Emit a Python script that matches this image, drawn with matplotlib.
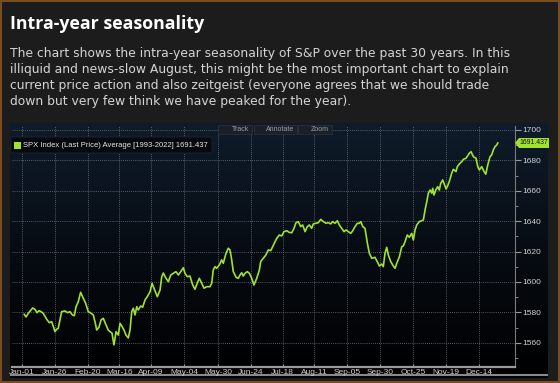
import matplotlib
matplotlib.use('Agg')
import matplotlib.pyplot as plt
import matplotlib.ticker as ticker
import matplotlib.patches as mpatches
from matplotlib.colors import LinearSegmentedColormap
import numpy as np

W, H = 560, 383

TITLE = 'Intra-year seasonality'
BODY = ['The chart shows the intra-year seasonality of S&P over the past 30 years. In this',
        'illiquid and news-slow August, this might be the most important chart to explain',
        'current price action and also zeitgeist (everyone agrees that we should trade',
        'down but very few think we have peaked for the year).']
LEGEND = 'SPX Index (Last Price) Average [1993-2022] 1691.437'
LAST = 1691.437

# x tick labels (day of year, Jan-01 = 0)
tick_days = [0, 25, 50, 74, 98, 123, 149, 174, 198, 222, 247, 272, 297, 322, 347]
tick_labels = ['Jan-01', 'Jan-26', 'Feb-20', 'Mar-16', 'Apr-09', 'May-04', 'May-30', 'Jun-24',
               'Jul-18', 'Aug-11', 'Sep-05', 'Sep-30', 'Oct-25', 'Nov-19', 'Dec-14']
y_ticks = [1560, 1580, 1600, 1620, 1640, 1660, 1680, 1700]

# average seasonal path
days = [1.8, 3.1, 4.9, 8.2, 9.9, 11.5, 13.0, 14.5, 16.2, 18.8, 20.8, 22.6, 24.1, 25.1, 26.4, 27.6,
        30.2, 32.7, 34.8, 36.5, 38.3, 39.8, 41.1, 42.8, 44.6, 46.6, 48.4, 50.4, 52.5, 54.2, 55.5,
        56.8, 58.5, 60.1, 61.8, 63.9, 65.6, 66.9, 68.4, 69.9, 71.5, 73.2, 74.5, 75.8, 77.5, 79.0,
        80.8, 82.1, 83.4, 84.6, 85.9, 87.2, 88.4, 90.2, 91.7, 93.5, 95.2, 97.3, 98.8, 100.3, 101.8,
        102.8, 104.9, 106.2, 107.4, 109.4, 111.2, 113.0, 115.0, 117.0, 118.8, 120.6, 122.6, 123.8,
        125.6, 127.6, 129.7, 131.4, 133.2, 134.7, 136.5, 138.3, 140.3, 142.8, 144.1, 145.3, 146.6,
        147.9, 149.9, 151.7, 152.9, 155.0, 156.7, 158.0, 159.3, 160.5, 162.6, 164.3, 165.6, 166.9,
        168.1, 169.4, 171.1, 172.7, 174.5, 176.2, 178.3, 180.3, 181.3, 183.3, 185.3, 187.1, 188.9,
        190.4, 192.2, 193.5, 195.4, 197.3, 199.0, 201.1, 203.0, 204.9, 206.6, 208.1, 209.9, 211.7,
        213.2, 215.0, 216.7, 218.2, 220.0, 221.3, 223.3, 225.1, 226.9, 228.9, 230.9, 232.6, 234.5,
        236.0, 237.7, 239.5, 241.0, 242.8, 244.6, 246.1, 247.8, 249.7, 251.2, 252.9, 254.7, 256.2,
        257.3, 258.8, 260.5, 262.3, 263.8, 265.6, 268.1, 269.9, 271.4, 273.2, 274.4, 275.7, 277.0,
        278.2, 280.0, 282.0, 283.3, 284.6, 286.6, 288.4, 289.6, 290.9, 292.6, 294.2, 296.0, 297.2,
        298.5, 299.8, 301.7, 303.6, 304.8, 306.1, 307.4, 308.6, 309.9, 311.2, 311.9, 312.9, 314.2,
        315.7, 316.9, 318.0, 319.5, 320.5, 322.0, 323.0, 324.5, 326.3, 327.6, 329.6, 330.6, 332.6,
        333.9, 335.2, 337.2, 339.7, 341.0, 342.8, 344.8, 346.1, 347.3, 349.1, 350.9, 352.2, 353.7,
        355.4, 356.7, 357.9, 359.2, 360.5, 361.3]
prices = [1578.7, 1577.0, 1579.4, 1582.9, 1582.0, 1579.8, 1581.1, 1580.5, 1579.4, 1575.5, 1573.2,
          1573.9, 1570.2, 1567.3, 1568.9, 1569.5, 1580.5, 1580.9, 1579.8, 1580.5, 1578.3, 1577.8,
          1583.7, 1587.0, 1593.2, 1589.3, 1586.0, 1580.5, 1579.4, 1578.3, 1573.9, 1568.4, 1570.2,
          1575.0, 1576.1, 1571.7, 1568.4, 1567.3, 1566.4, 1558.6, 1567.3, 1565.1, 1572.8, 1571.1,
          1568.4, 1565.1, 1563.2, 1568.4, 1580.5, 1582.7, 1578.3, 1583.7, 1581.6, 1584.2, 1583.4,
          1588.2, 1590.3, 1593.6, 1599.1, 1595.9, 1592.6, 1590.3, 1594.7, 1603.5, 1605.9, 1602.4,
          1600.2, 1604.6, 1605.7, 1606.8, 1604.6, 1606.8, 1609.4, 1605.7, 1603.5, 1603.9, 1598.0,
          1595.2, 1599.3, 1602.4, 1599.1, 1595.9, 1596.9, 1596.9, 1599.1, 1607.9, 1610.1, 1609.0,
          1611.2, 1614.5, 1612.3, 1618.9, 1622.2, 1621.1, 1614.5, 1606.8, 1603.1, 1602.4, 1604.6,
          1606.1, 1603.9, 1605.7, 1606.8, 1605.7, 1602.4, 1598.0, 1602.4, 1607.9, 1613.4, 1615.6,
          1617.8, 1621.1, 1620.6, 1623.2, 1626.5, 1628.7, 1630.9, 1630.3, 1633.1, 1633.7, 1632.6,
          1632.4, 1635.3, 1639.0, 1639.7, 1636.4, 1637.5, 1633.1, 1636.4, 1637.5, 1635.3, 1638.2,
          1638.6, 1639.0, 1641.2, 1639.7, 1638.6, 1639.0, 1638.2, 1639.7, 1638.6, 1640.3, 1637.5,
          1635.3, 1633.1, 1634.2, 1633.1, 1632.0, 1633.7, 1636.4, 1638.6, 1638.6, 1639.7, 1636.4,
          1635.3, 1625.5, 1618.9, 1615.6, 1616.2, 1613.2, 1610.5, 1611.8, 1610.1, 1618.9, 1622.8,
          1617.8, 1613.4, 1610.5, 1609.0, 1612.3, 1616.6, 1623.2, 1623.7, 1626.5, 1630.9, 1629.4,
          1632.0, 1627.6, 1634.2, 1637.5, 1639.7, 1640.3, 1640.8, 1647.4, 1652.8, 1658.4, 1660.5,
          1658.4, 1661.6, 1657.2, 1660.5, 1662.7, 1660.5, 1664.9, 1667.1, 1664.9, 1661.2, 1662.7,
          1666.0, 1671.5, 1674.1, 1672.6, 1675.9, 1678.1, 1679.1, 1680.7, 1681.4, 1684.7, 1685.7,
          1682.4, 1681.4, 1675.9, 1673.7, 1675.9, 1672.6, 1670.9, 1677.0, 1682.4, 1683.6, 1686.8,
          1689.0, 1690.1, 1691.437]

GREEN = '#a0e22e'


def px_rect(x0, y0, x1, y1):
    return [x0 / W, 1 - y1 / H, (x1 - x0) / W, (y1 - y0) / H]


fig = plt.figure(figsize=(W / 100, H / 100), dpi=100)
fig.patch.set_facecolor('#1c1c1c')

# thin brownish card border
fig.patches.append(mpatches.Rectangle((0.001, 0.002), 0.997, 0.996, transform=fig.transFigure,
                                      fill=False, edgecolor='#7a4c22', linewidth=1.5))

fig.text(10 / W, 1 - 29.3 / H, TITLE, fontsize=12.8, fontweight='bold', color='white',
         family='Open Sans', va='baseline')
for i, line in enumerate(BODY):
    fig.text(10 / W, 1 - (56.5 + i * 16.3) / H, line, fontsize=8.9, color='#d4d4d4',
             family='DejaVu Sans', va='baseline')

# panel background: navy gradient fading to black
ax_bg = fig.add_axes(px_rect(10, 123, 548, 378))
grad = np.linspace(0, 1, 256).reshape(-1, 1)
cmap = LinearSegmentedColormap.from_list('panel', ['#0f1c2b', '#070c13', '#000000'])
ax_bg.imshow(grad, aspect='auto', cmap=cmap, extent=[0, 1, 0, 1], origin='upper')
ax_bg.axhline(0.01, color='#8a8a8a', lw=1.5)
ax_bg.set_axis_off()

ax = fig.add_axes(px_rect(12, 126, 514.5, 366.5))
ax.patch.set_alpha(0)
ax.plot(days, prices, color=GREEN, lw=1.2, solid_joinstyle='round')

ax.set_xlim(-7.5, 374.0)
ax.set_ylim(1544.4, 1702.6)

ax.set_xticks(tick_days)
ax.set_xticklabels(tick_labels)
ax.yaxis.tick_right()
ax.set_yticks(y_ticks)
ax.yaxis.set_minor_locator(ticker.MultipleLocator(10))
ax.tick_params(axis='x', colors='#9a9a9a', labelcolor='#d0d0d0', labelsize=6, length=2,
               direction='in', pad=2)
ax.tick_params(axis='y', which='major', colors='#9a9a9a', labelcolor='#d0d0d0', labelsize=6,
               length=4, pad=1.5)
ax.tick_params(axis='y', which='minor', colors='#9a9a9a', length=2)
for lab in ax.get_xticklabels() + ax.get_yticklabels():
    lab.set_family('Liberation Sans')

ax.grid(True, which='major', color='#6d7680', linestyle=(0, (1, 1.5)), linewidth=0.6)
for s in ['top', 'left']:
    ax.spines[s].set_visible(False)
ax.spines['bottom'].set_color('#9a9a9a')
ax.spines['bottom'].set_linewidth(1.6)
ax.spines['right'].set_color('#7a7a7a')
ax.spines['right'].set_linewidth(0.8)

# legend box
fig.patches.append(mpatches.FancyBboxPatch((11 / W, 1 - 153 / H), 201 / W, 16 / H,
                   boxstyle='round,pad=0,rounding_size=0.004', transform=fig.transFigure,
                   facecolor='#06090d', edgecolor='#1e2630', linewidth=0.6))
fig.patches.append(mpatches.Rectangle((14 / W, 1 - 149 / H), 7 / W, 7 / H,
                   transform=fig.transFigure, facecolor=GREEN, edgecolor='none'))
fig.text(23 / W, 1 - 145.5 / H, LEGEND, fontsize=5.5, color='#e6e6e6',
         family='Liberation Sans', va='center')

# toolbar buttons at the top
for x0, x1, label in [(218, 252, 'Track'), (254, 297, 'Annotate'), (298, 332, 'Zoom')]:
    fig.patches.append(mpatches.Rectangle((x0 / W, 1 - 133.5 / H), (x1 - x0) / W, 8.5 / H,
                       transform=fig.transFigure, facecolor='#1b2028', edgecolor='#2c333c',
                       linewidth=0.5))
    fig.text((x1 - 3) / W, 1 - 129.3 / H, label, fontsize=5, color='#9aa0a6',
             family='Liberation Sans', va='center', ha='right')

# last value tag
fig.patches.append(mpatches.Polygon([(515 / W, 1 - 143 / H), (519 / W, 1 - 138 / H),
                                     (549 / W, 1 - 138 / H), (549 / W, 1 - 148 / H),
                                     (519 / W, 1 - 148 / H)], closed=True,
                                    transform=fig.transFigure, facecolor=GREEN,
                                    edgecolor='none'))
fig.text(533.5 / W, 1 - 143 / H, f'{LAST:.3f}', fontsize=4.9, color='#101010',
         family='Liberation Sans', va='center', ha='center')

fig.savefig('out.png', dpi=100, facecolor=fig.get_facecolor())
